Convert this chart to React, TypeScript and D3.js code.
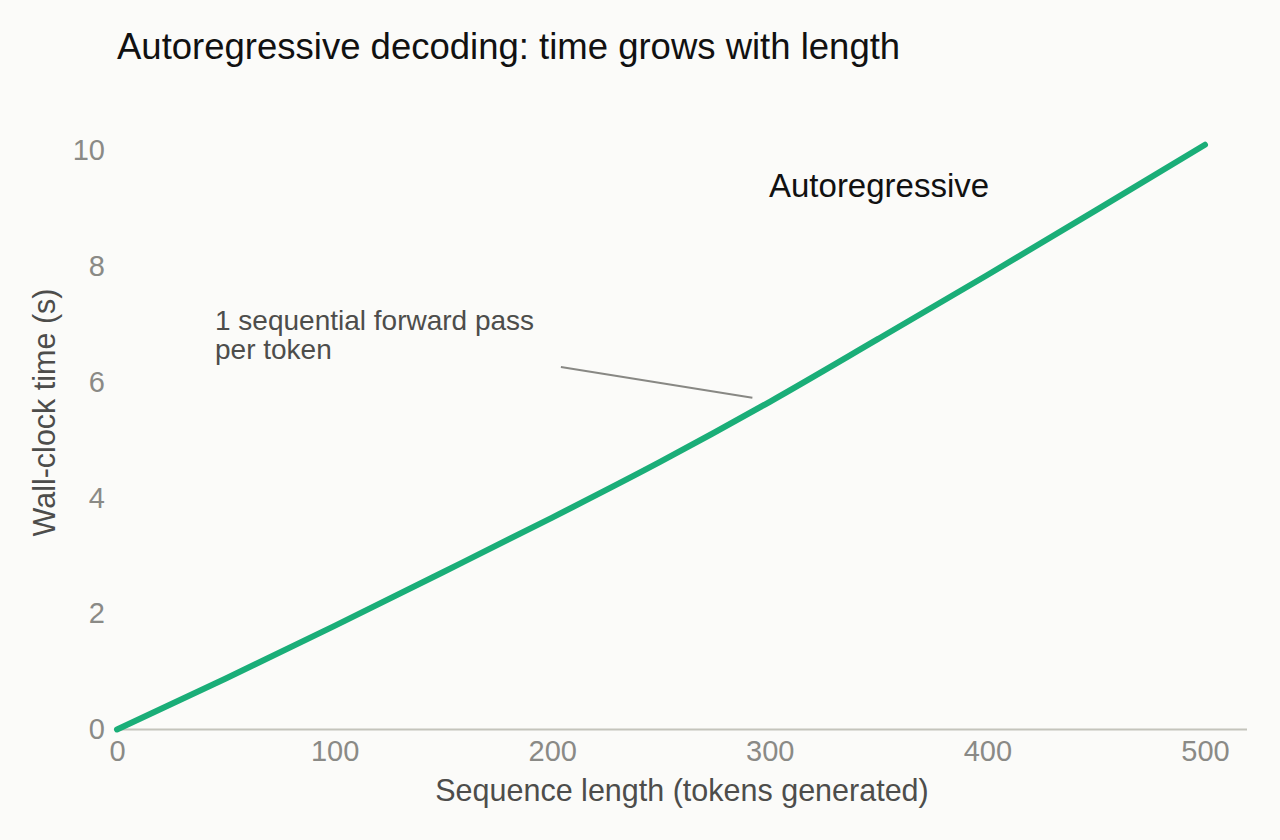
import React, { useEffect, useRef } from "react";
import * as d3 from "d3";

// Sequence length (tokens generated)
const tokens = [0, 50, 100, 150, 200, 250, 300, 350, 400, 450, 500];
// Wall-clock time (s)
const seconds = [0, 0.88, 1.79, 2.72, 3.66, 4.63, 5.66, 6.75, 7.85, 8.97, 10.1];

const xTicks = [0, 100, 200, 300, 400, 500];
const yTicks = [0, 2, 4, 6, 8, 10];

const title = "Autoregressive decoding: time grows with length";
const xTitle = "Sequence length (tokens generated)";
const yTitle = "Wall-clock time (s)";
const seriesLabel = "Autoregressive";
const noteLines = ["1 sequential forward pass", "per token"];

const WIDTH = 1280;
const HEIGHT = 840;
const FONT = "'Liberation Sans', Arial, Helvetica, sans-serif";

const App: React.FC = () => {
  const svgRef = useRef<SVGSVGElement | null>(null);

  useEffect(() => {
    document.body.style.margin = "0";
    document.body.style.background = "#fbfbf9";
    if (!svgRef.current) return;

    const svg = d3.select(svgRef.current);
    svg.selectAll("*").remove();

    const xScale = d3.scaleLinear().domain([0, 500]).range([117, 1205]);
    const yScale = d3.scaleLinear().domain([0, 10]).range([729.5, 150.5]);

    svg
      .append("rect")
      .attr("width", WIDTH)
      .attr("height", HEIGHT)
      .attr("fill", "#fbfbf9");

    // Title
    svg
      .append("text")
      .attr("x", 117)
      .attr("y", 59)
      .attr("font-family", FONT)
      .attr("font-size", 36.5)
      .attr("fill", "#111")
      .text(title);

    // X axis (labels only, baseline drawn separately)
    const xAxis = svg
      .append("g")
      .attr("transform", `translate(0,${yScale(0)})`)
      .call(d3.axisBottom(xScale).tickValues(xTicks).tickSize(0).tickPadding(10.5));
    xAxis.select(".domain").remove();
    xAxis
      .selectAll("text")
      .attr("font-family", FONT)
      .attr("font-size", 29)
      .attr("fill", "#8a8a86");

    svg
      .append("line")
      .attr("x1", xScale(0))
      .attr("x2", 1247)
      .attr("y1", yScale(0))
      .attr("y2", yScale(0))
      .attr("stroke", "#c4c4bc")
      .attr("stroke-width", 2);

    // Y axis labels only
    const yAxis = svg
      .append("g")
      .attr("transform", `translate(${xScale(0)},0)`)
      .call(d3.axisLeft(yScale).tickValues(yTicks).tickSize(0).tickPadding(12));
    yAxis.select(".domain").remove();
    yAxis
      .selectAll("text")
      .attr("font-family", FONT)
      .attr("font-size", 29)
      .attr("fill", "#8a8a86");

    // Axis titles
    svg
      .append("text")
      .attr("x", 682)
      .attr("y", 801)
      .attr("text-anchor", "middle")
      .attr("font-family", FONT)
      .attr("font-size", 30.5)
      .attr("fill", "#4d4d4b")
      .text(xTitle);

    svg
      .append("text")
      .attr("transform", `translate(55,412.5) rotate(-90)`)
      .attr("text-anchor", "middle")
      .attr("font-family", FONT)
      .attr("font-size", 30.5)
      .attr("fill", "#4d4d4b")
      .text(yTitle);

    // Series line
    const points = tokens.map((t, i) => ({ t, s: seconds[i] }));
    svg
      .append("path")
      .datum(points)
      .attr("fill", "none")
      .attr("stroke", "#1aae78")
      .attr("stroke-width", 6)
      .attr("stroke-linecap", "round")
      .attr(
        "d",
        d3
          .line<(typeof points)[0]>()
          .curve(d3.curveMonotoneX)
          .x((d) => xScale(d.t))
          .y((d) => yScale(d.s))
      );

    // Series label
    svg
      .append("text")
      .attr("x", 769)
      .attr("y", 196.5)
      .attr("font-family", FONT)
      .attr("font-size", 33)
      .attr("fill", "#111")
      .text(seriesLabel);

    // Annotation
    const note = svg
      .append("text")
      .attr("font-family", FONT)
      .attr("font-size", 28)
      .attr("fill", "#4d4d4b");
    noteLines.forEach((line, i) => {
      note
        .append("tspan")
        .attr("x", 215)
        .attr("y", 329.5 + i * 29)
        .text(line);
    });

    svg
      .append("line")
      .attr("x1", xScale(204))
      .attr("y1", yScale(6.26))
      .attr("x2", xScale(292))
      .attr("y2", yScale(5.73))
      .attr("stroke", "#888884")
      .attr("stroke-width", 2);
  }, []);

  return <svg ref={svgRef} width={WIDTH} height={HEIGHT} style={{ display: "block" }} />;
};

export default App;
